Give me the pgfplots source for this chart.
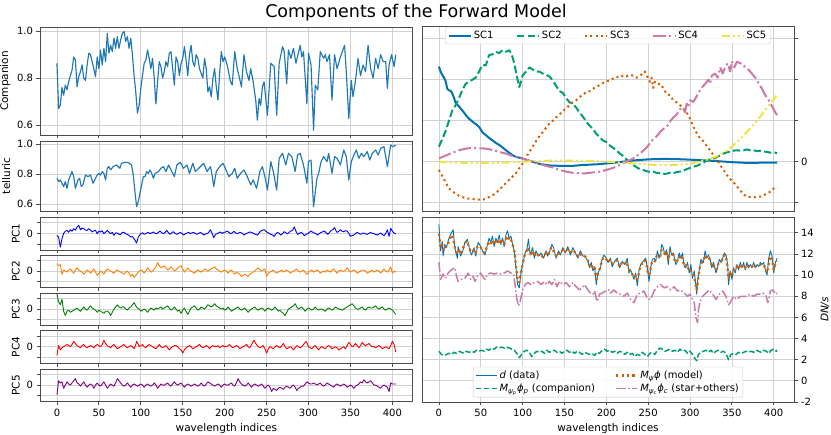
\documentclass[border=0pt,10pt]{standalone}
\usepackage{fontspec}
\setmainfont{DejaVu Sans}
\usepackage{pgfplots}
\pgfplotsset{compat=1.18}
\definecolor{cbblue}{HTML}{0072B2}
\definecolor{cbgreen}{HTML}{009E73}
\definecolor{cborange}{HTML}{D55E00}
\definecolor{cbpink}{HTML}{CC79A7}
\definecolor{cbyellow}{HTML}{F0E442}
\definecolor{lblue}{HTML}{1f77b4}
\definecolor{mpurple}{HTML}{800080}
\pgfplotsset{
  base/.style={
    scale only axis, anchor=south west,
    xmin=-20.2, xmax=424.2,
    xtick={0,50,...,400},
    grid=major,
    major grid style={black!18, line width=0.7pt},
    axis line style={black!70, line width=0.8pt},
    tick align=outside, major tick length=3.5pt,
    every tick/.style={black!70, line width=0.8pt},
    tick label style={font=\fontsize{10}{12}\selectfont, text=black},
    label style={font=\fontsize{10.5}{12}\selectfont},
    /pgf/number format/assume math mode=true,
    every axis plot/.append style={no marks, line join=round},
  },
  leftax/.style={base, width=372.7pt, tick pos=left},
  rightax/.style={base, width=372pt, height=185pt, xtick pos=bottom, ytick pos=right, yticklabel pos=right},
  pcax/.style={leftax, height=32.7pt, ymin=-1.55, ymax=1.5, ytick={-1,0,1}, yticklabels={{},0,{}}, xticklabels={}},
}
\begin{document}
\begin{tikzpicture}
\path[use as bounding box] (0,0) rectangle (831pt,435pt);
\node[font=\fontsize{17.5}{20}\selectfont] at (416pt,422pt) {Components of the Forward Model};

% Companion
\begin{axis}[leftax, at={(40pt,300pt)}, height=108pt, ymin=0.557, ymax=1.018,
  ytick={0.6,0.8,1.0}, yticklabels={0.6,0.8,1.0}, xticklabels={}, ylabel={Companion}]
\addplot[lblue, line width=1.15pt] coordinates {(0,0.863)(2,0.67)(4,0.684)(6,0.76)(8,0.727)(10,0.77)(12,0.75)(14,0.784)(16,0.81)(18,0.834)(20,0.89)(22,0.877)(24,0.763)(26,0.806)(28,0.827)(30,0.856)(32,0.8)(34,0.79)(36,0.856)(38,0.906)(40,0.9)(42,0.87)(44,0.84)(46,0.806)(48,0.89)(50,0.84)(52,0.92)(54,0.856)(56,0.927)(58,0.87)(60,0.99)(62,0.906)(64,0.94)(66,0.913)(68,0.97)(70,0.927)(72,0.977)(74,0.927)(76,0.963)(78,0.99)(80,0.999)(82,0.956)(84,0.977)(86,0.927)(88,0.97)(90,0.9)(92,0.81)(94,0.74)(96,0.65)(98,0.684)(100,0.756)(102,0.81)(104,0.863)(106,0.877)(108,0.92)(110,0.884)(112,0.84)(114,0.884)(116,0.8)(118,0.69)(120,0.784)(122,0.87)(124,0.849)(126,0.8)(128,0.827)(130,0.87)(132,0.849)(134,0.906)(136,0.913)(138,0.84)(140,0.77)(142,0.89)(144,0.87)(146,0.81)(148,0.863)(150,0.884)(152,0.934)(154,0.877)(156,0.81)(158,0.9)(160,0.94)(162,0.87)(164,0.849)(166,0.9)(168,0.884)(170,0.84)(172,0.82)(174,0.8)(176,0.884)(178,0.84)(180,0.741)(182,0.763)(184,0.72)(186,0.8)(188,0.84)(190,0.763)(192,0.706)(194,0.82)(196,0.913)(198,0.87)(200,0.89)(203,0.856)(207,0.784)(209,0.77)(212,0.913)(215,0.84)(217,0.81)(220,0.763)(223,0.9)(226,0.827)(229,0.79)(231,0.84)(234,0.784)(237,0.706)(239,0.62)(241,0.713)(243,0.684)(245,0.763)(247,0.784)(251,0.641)(255,0.863)(259,0.849)(262,0.641)(265,0.863)(269,0.934)(271,0.913)(274,0.777)(276,0.92)(279,0.884)(282,0.927)(285,0.863)(290,0.94)(292,0.89)(294,0.913)(298,0.69)(300,0.906)(303,0.856)(306,0.577)(308,0.77)(311,0.749)(314,0.913)(318,0.884)(320,0.9)(322,0.87)(325,0.9)(328,0.706)(331,0.9)(334,0.84)(338,0.89)(343,0.94)(345,0.827)(348,0.627)(351,0.79)(353,0.72)(356,0.79)(359,0.884)(362,0.81)(365,0.856)(368,0.827)(371,0.94)(374,0.84)(377,0.8)(380,0.884)(383,0.84)(386,0.9)(389,0.87)(392,0.87)(394,0.756)(396,0.856)(399,0.9)(402,0.849)(404,0.9)};
\end{axis}

% telluric
\begin{axis}[leftax, at={(40pt,224pt)}, height=70pt, ymin=0.553, ymax=1.02,
  ytick={0.6,0.8,1.0}, yticklabels={0.6,0.8,1.0}, xticklabels={}, ylabel={telluric}]
\addplot[lblue, line width=1.15pt] coordinates {(0,0.771)(2,0.749)(4,0.76)(6,0.738)(8,0.716)(10,0.749)(12,0.704)(14,0.76)(18,0.816)(20,0.782)(22,0.704)(25,0.76)(27,0.771)(29,0.716)(31,0.727)(34,0.793)(37,0.782)(40,0.793)(43,0.738)(45,0.76)(48,0.793)(50,0.804)(52,0.793)(54,0.816)(56,0.804)(58,0.76)(60,0.838)(62,0.849)(64,0.827)(67,0.849)(71,0.86)(75,0.838)(77,0.871)(81,0.878)(85,0.876)(89,0.86)(91,0.793)(93,0.682)(95,0.582)(97,0.616)(99,0.671)(101,0.727)(103,0.782)(105,0.782)(107,0.816)(109,0.804)(111,0.827)(113,0.804)(115,0.771)(117,0.804)(121,0.816)(124,0.838)(127,0.849)(130,0.816)(133,0.86)(137,0.816)(140,0.782)(143,0.86)(147,0.878)(151,0.838)(155,0.86)(158,0.804)(162,0.871)(165,0.816)(169,0.838)(173,0.86)(175,0.871)(179,0.816)(183,0.849)(185,0.793)(187,0.716)(190,0.816)(194,0.849)(198,0.871)(200,0.849)(205,0.782)(209,0.804)(212,0.838)(215,0.771)(219,0.804)(223,0.827)(227,0.782)(231,0.727)(234,0.76)(238,0.704)(242,0.816)(245,0.849)(248,0.782)(251,0.693)(255,0.882)(258,0.816)(262,0.693)(265,0.904)(269,0.938)(273,0.86)(276,0.938)(280,0.916)(284,0.816)(287,0.927)(290,0.938)(294,0.86)(298,0.738)(300,0.882)(303,0.893)(306,0.582)(310,0.771)(312,0.804)(315,0.882)(318,0.916)(322,0.882)(324,0.938)(328,0.804)(331,0.916)(334,0.904)(338,0.86)(342,0.96)(345,0.916)(348,0.76)(351,0.882)(354,0.927)(357,0.96)(360,0.904)(363,0.938)(366,0.916)(370,0.949)(373,0.893)(376,0.938)(380,0.96)(383,0.927)(386,0.971)(390,0.982)(394,0.849)(398,0.993)(401,0.982)(404,0.993)};
\end{axis}

% PC1
\begin{axis}[pcax, at={(40pt,185pt)}, ylabel={PC1}]
\addplot[blue, line width=0.9pt] coordinates {(0,-0.19)(2,-0.34)(4,-1.28)(6,-0.5)(8,0.0)(10,0.2)(12,0.28)(14,0.1)(16,0.34)(18,0.2)(20,0.44)(22,0.3)(24,0.6)(26,0.75)(28,0.34)(30,0.5)(32,0.44)(34,0.3)(36,0.28)(38,0.44)(40,0.3)(42,0.13)(44,0.25)(46,0.28)(48,-0.03)(50,0.2)(52,0.13)(54,0.25)(56,-0.03)(58,0.1)(60,0.28)(62,0.1)(64,-0.03)(66,0.1)(68,-0.19)(70,0.05)(72,0.03)(74,-0.1)(76,-0.09)(78,0.1)(80,0.09)(82,-0.05)(84,-0.09)(86,-0.2)(88,-0.34)(90,-0.3)(92,-0.5)(95,-0.9)(97,-0.34)(100,-0.03)(102,0.05)(104,-0.09)(107,0.03)(109,0.1)(111,-0.03)(113,0.05)(115,0.13)(117,0.0)(119,-0.03)(121,0.1)(123,0.22)(125,0.05)(127,-0.03)(129,0.1)(131,0.28)(133,0.05)(135,-0.09)(137,0.05)(139,0.16)(141,0.0)(143,-0.09)(145,0.0)(147,0.09)(149,0.0)(151,-0.16)(153,-0.05)(155,0.03)(157,0.1)(159,-0.03)(161,0.05)(163,0.09)(165,0.0)(167,-0.09)(169,0.0)(171,0.09)(173,0.0)(175,-0.16)(177,-0.05)(179,-0.03)(181,0.1)(183,0.34)(185,0.0)(187,-0.4)(189,-0.1)(191,-0.03)(193,0.05)(195,0.13)(197,0.0)(199,0.09)(201,0.12)(203,0.22)(205,0.1)(207,-0.03)(209,0.05)(211,0.19)(213,0.05)(215,-0.03)(217,0.05)(219,0.09)(221,0.0)(223,-0.16)(225,-0.05)(227,0.03)(229,0.1)(231,0.13)(233,0.05)(235,-0.03)(237,-0.1)(239,-0.16)(241,0.05)(243,0.22)(245,0.3)(247,0.34)(249,0.2)(251,0.09)(253,0.0)(255,-0.09)(257,-0.15)(259,-0.28)(261,-0.05)(263,0.09)(265,0.0)(267,-0.16)(269,0.0)(271,0.16)(273,0.05)(275,-0.03)(277,0.1)(279,0.22)(281,0.3)(283,0.6)(285,0.2)(287,-0.09)(289,0.0)(291,0.09)(293,0.0)(295,-0.22)(297,-0.1)(299,-0.03)(301,0.1)(303,0.22)(305,0.1)(307,0.03)(309,-0.05)(311,-0.16)(313,0.0)(315,0.09)(317,0.15)(319,0.22)(321,0.05)(323,-0.09)(325,0.1)(327,0.28)(329,0.35)(331,0.53)(333,0.2)(334,0.09)(336,0.2)(338,0.34)(340,0.2)(342,0.16)(344,0.25)(346,0.22)(348,0.0)(350,-0.28)(352,-0.2)(354,-0.16)(356,0.0)(358,0.09)(360,0.0)(362,-0.09)(364,0.0)(366,0.03)(368,-0.05)(370,-0.09)(372,0.0)(374,0.09)(376,0.0)(378,-0.03)(380,-0.1)(382,-0.16)(384,-0.05)(386,0.03)(388,-0.1)(390,-0.22)(392,0.0)(394,0.34)(396,-0.28)(398,0.47)(400,0.2)(402,0.03)(404,-0.03)};
\end{axis}

% PC2
\begin{axis}[pcax, at={(40pt,147.3pt)}, ylabel={PC2}]
\addplot[orange, line width=0.9pt] coordinates {(0,0.7)(2,0.5)(4,0.6)(6,-0.3)(8,0.1)(10,0.0)(12,-0.1)(14,0.1)(16,0.2)(18,0.0)(20,-0.2)(22,0.1)(24,0.3)(26,0.1)(28,0.0)(30,-0.1)(32,-0.3)(34,-0.1)(36,0.1)(38,0.0)(40,-0.2)(42,0.0)(44,0.2)(46,-0.1)(48,-0.4)(50,-0.2)(52,0.0)(54,-0.1)(56,-0.3)(58,0.0)(60,0.2)(62,0.1)(64,0.0)(66,-0.1)(68,-0.2)(70,0.0)(72,0.1)(74,0.0)(76,-0.1)(78,-0.2)(80,-0.3)(82,-0.1)(84,0.0)(86,-0.2)(88,-0.5)(90,-0.3)(92,-0.6)(94,-0.4)(96,-0.2)(98,0.0)(100,0.1)(102,0.0)(104,-0.2)(106,0.0)(108,0.3)(110,0.1)(112,-0.1)(114,0.0)(116,0.2)(118,0.4)(120,0.8)(122,0.5)(124,0.3)(126,0.4)(128,0.5)(130,0.3)(132,0.1)(134,0.2)(136,0.4)(138,0.2)(140,0.0)(142,0.1)(144,0.3)(146,0.4)(148,0.5)(150,0.2)(152,-0.1)(154,0.1)(156,0.3)(158,0.1)(160,0.0)(162,-0.1)(164,-0.2)(166,0.0)(168,0.1)(170,0.0)(172,-0.1)(174,0.0)(176,0.2)(178,0.1)(180,0.0)(182,0.1)(184,0.2)(186,0.3)(188,0.4)(190,0.2)(192,0.1)(194,0.0)(196,-0.1)(198,0.0)(200,0.1)(202,0.0)(204,-0.2)(206,0.0)(208,0.1)(210,-0.1)(212,-0.3)(214,-0.1)(216,-0.2)(218,-0.3)(220,-0.5)(222,-0.4)(224,-0.3)(226,-0.4)(228,-0.5)(230,-0.3)(232,-0.2)(234,-0.1)(236,0.0)(238,0.2)(240,0.3)(242,0.1)(244,0.0)(246,0.1)(248,0.2)(250,-0.5)(252,-0.2)(254,-0.1)(256,0.0)(258,0.1)(260,-0.1)(262,-0.2)(264,-0.1)(266,0.0)(268,0.1)(270,-0.1)(272,0.0)(274,0.1)(276,0.0)(278,-0.2)(280,-0.1)(282,0.0)(284,0.1)(286,0.2)(288,0.0)(290,-0.1)(292,0.0)(294,0.1)(296,-0.1)(298,-0.3)(300,-0.1)(302,0.0)(304,0.1)(306,-0.1)(308,0.0)(310,0.1)(312,0.0)(314,-0.2)(316,-0.1)(318,0.0)(320,-0.1)(322,0.1)(324,0.0)(326,-0.1)(328,0.1)(330,0.2)(332,0.0)(334,-0.2)(336,0.0)(338,0.1)(340,0.0)(342,0.0)(344,0.1)(346,0.3)(348,0.1)(350,-0.1)(352,0.0)(354,0.1)(356,0.0)(358,-0.2)(360,-0.1)(362,0.0)(364,0.1)(366,0.1)(368,0.0)(370,-0.2)(372,-0.1)(374,0.0)(376,0.1)(378,-0.1)(380,0.0)(382,0.1)(384,0.0)(386,-0.2)(388,0.0)(390,0.2)(392,0.0)(394,-0.1)(396,0.1)(398,0.4)(400,-0.2)(402,0.0)(404,-0.1)};
\end{axis}

% PC3
\begin{axis}[pcax, at={(40pt,109.3pt)}, ylabel={PC3}]
\addplot[green!50!black, line width=0.9pt] coordinates {(0,1.4)(1,1.0)(2,0.7)(4,0.4)(6,0.9)(8,-0.2)(10,-0.6)(12,-0.2)(14,-0.1)(16,-0.3)(18,-0.2)(20,-0.1)(22,0.0)(24,0.1)(26,-0.1)(28,-0.2)(30,0.0)(32,0.2)(34,0.0)(36,-0.1)(38,0.1)(40,0.3)(42,0.1)(44,0.0)(46,-0.1)(48,-0.3)(50,-0.1)(52,-0.2)(54,-0.3)(56,-0.4)(58,-0.2)(60,-0.2)(62,-0.3)(64,-0.6)(66,-0.3)(68,0.0)(70,0.2)(72,0.4)(74,0.2)(76,0.1)(78,0.2)(80,0.2)(82,0.0)(84,-0.1)(86,0.1)(88,0.2)(90,0.4)(92,0.6)(94,0.3)(96,0.1)(98,0.0)(100,-0.2)(102,-0.1)(104,0.0)(106,-0.1)(108,-0.3)(110,-0.1)(112,0.1)(114,0.0)(116,-0.1)(118,0.1)(120,0.0)(122,0.1)(124,0.2)(126,0.0)(128,0.1)(130,0.2)(132,0.3)(134,0.1)(136,-0.1)(138,0.0)(140,0.2)(142,0.0)(144,-0.2)(146,-0.1)(148,-0.4)(150,-0.1)(152,0.1)(154,-0.2)(156,-0.5)(158,-0.2)(160,0.1)(162,0.2)(164,0.3)(166,0.1)(168,-0.1)(170,0.0)(172,0.2)(174,0.1)(176,0.0)(178,0.2)(180,0.4)(182,0.3)(184,0.2)(186,0.3)(188,0.5)(190,0.3)(192,0.2)(194,0.1)(196,0.0)(198,0.1)(200,-0.1)(202,0.0)(204,0.2)(206,0.0)(208,-0.2)(210,-0.1)(212,0.0)(214,0.1)(216,0.2)(218,0.0)(220,-0.1)(222,0.0)(224,0.1)(226,-0.1)(228,-0.3)(230,-0.1)(232,0.0)(234,0.1)(236,0.2)(238,0.0)(240,-0.1)(242,0.0)(244,0.1)(246,0.0)(248,-0.2)(250,0.0)(252,0.1)(254,0.0)(256,-0.1)(258,0.0)(260,0.2)(262,0.0)(264,-0.2)(266,-0.1)(268,-0.3)(270,-0.4)(272,-0.6)(274,-0.3)(276,0.0)(278,0.1)(280,0.2)(282,0.3)(284,0.5)(286,0.2)(288,0.0)(290,0.1)(292,0.2)(294,0.0)(296,-0.2)(298,0.0)(300,0.1)(302,0.0)(304,-0.1)(306,0.0)(308,0.2)(310,0.0)(312,-0.1)(314,0.0)(316,0.0)(318,-0.1)(320,-0.2)(322,0.0)(324,0.1)(326,0.0)(328,-0.1)(330,0.0)(332,0.2)(334,0.1)(336,0.0)(338,0.0)(340,-0.1)(342,0.0)(344,0.1)(346,0.2)(348,0.3)(350,0.4)(352,0.5)(354,0.3)(356,0.1)(358,0.0)(360,0.0)(362,0.1)(364,0.2)(366,0.0)(368,-0.1)(370,0.1)(372,0.2)(374,0.1)(376,0.1)(378,0.2)(380,0.3)(382,0.1)(384,0.0)(386,0.1)(388,0.2)(390,0.0)(392,-0.1)(394,0.0)(396,0.1)(398,0.0)(400,-0.1)(402,-0.3)(404,-0.5)};
\end{axis}

% PC4
\begin{axis}[pcax, at={(40pt,71.7pt)}, ylabel={PC4}]
\addplot[red, line width=0.9pt] coordinates {(0,-0.8)(2,0.1)(4,-0.3)(6,-0.1)(8,0.0)(10,0.1)(12,0.2)(14,0.1)(16,0.0)(18,0.2)(20,0.5)(22,0.3)(24,0.1)(26,0.0)(28,-0.1)(30,0.1)(32,0.2)(34,0.0)(36,-0.1)(38,0.0)(40,0.1)(42,0.0)(44,-0.1)(46,0.1)(48,0.2)(50,0.1)(52,0.0)(54,0.2)(56,0.6)(58,0.3)(60,0.1)(62,0.0)(64,-0.1)(66,0.1)(68,0.2)(70,0.0)(72,-0.2)(74,-0.1)(76,0.0)(78,0.1)(80,0.2)(82,0.0)(84,-0.1)(86,0.0)(88,0.1)(90,0.0)(92,-0.2)(94,0.2)(95,0.5)(97,0.2)(98,0.0)(100,0.1)(102,0.2)(104,0.0)(106,-0.1)(108,0.1)(110,0.2)(112,0.1)(114,0.0)(116,-0.1)(118,-0.2)(120,0.0)(122,0.2)(124,0.0)(126,-0.1)(128,0.0)(130,0.1)(132,-0.1)(134,-0.3)(136,-0.1)(138,0.0)(140,0.1)(142,0.1)(144,0.0)(146,-0.2)(148,-0.3)(150,-0.6)(152,-0.3)(154,-0.1)(156,0.0)(158,0.1)(160,0.0)(162,-0.2)(164,-0.1)(166,0.0)(168,0.1)(170,0.2)(172,0.0)(174,-0.1)(176,0.0)(178,0.1)(180,0.0)(182,-0.2)(184,0.0)(186,0.1)(188,0.0)(190,0.0)(192,0.1)(194,-0.1)(196,0.0)(198,0.1)(200,0.0)(202,0.0)(204,0.1)(206,0.2)(208,0.0)(210,-0.1)(212,0.0)(214,0.1)(216,0.0)(218,-0.2)(220,-0.1)(222,0.0)(224,0.1)(226,0.2)(228,0.0)(230,-0.1)(232,0.2)(235,0.6)(237,0.3)(238,0.2)(240,0.0)(242,-0.1)(244,0.0)(246,0.1)(248,-0.2)(250,-0.6)(252,-0.2)(254,0.0)(256,-0.1)(258,-0.2)(260,0.0)(262,0.1)(264,0.0)(266,-0.1)(268,0.1)(270,0.3)(272,0.0)(274,-0.2)(276,-0.1)(278,0.0)(280,-0.1)(282,-0.3)(284,-0.1)(286,0.1)(288,0.0)(290,-0.1)(292,0.0)(294,0.2)(297,0.5)(299,0.2)(300,0.0)(302,-0.1)(304,-0.2)(306,0.0)(308,0.1)(310,-0.1)(312,-0.3)(314,-0.1)(316,0.0)(318,-0.1)(320,-0.2)(322,0.0)(324,0.1)(326,0.0)(328,-0.2)(330,-0.1)(332,0.0)(334,-0.1)(336,-0.3)(338,-0.2)(340,-0.1)(342,0.0)(344,-0.2)(346,0.1)(348,0.4)(350,0.2)(352,0.0)(354,0.1)(356,0.3)(358,0.1)(360,-0.1)(362,0.1)(364,0.4)(366,0.2)(368,0.1)(370,0.2)(372,0.3)(374,0.1)(376,0.0)(378,0.0)(380,-0.1)(382,0.0)(384,0.1)(386,0.0)(388,-0.2)(390,-0.1)(392,0.0)(394,-0.1)(396,-0.2)(398,0.1)(400,0.5)(402,0.2)(404,-0.5)};
\end{axis}

% PC5
\begin{axis}[pcax, at={(40pt,33.3pt)}, ylabel={PC5}, xticklabels={0,50,100,150,200,250,300,350,400}, xlabel={wavelength indices}]
\addplot[mpurple, line width=0.9pt] coordinates {(0,-0.9)(2,0.4)(4,0.2)(6,0.3)(8,-0.3)(10,0.0)(12,0.3)(14,0.1)(16,0.0)(18,0.2)(20,0.4)(22,0.6)(24,0.2)(26,0.1)(28,-0.1)(30,0.1)(32,0.3)(34,0.0)(36,-0.2)(38,0.0)(40,0.1)(42,0.0)(44,-0.3)(46,0.0)(48,0.2)(50,0.0)(52,-0.1)(54,0.1)(56,0.3)(58,0.0)(60,-0.3)(62,-0.1)(64,0.1)(66,0.0)(68,-0.1)(70,0.2)(72,0.6)(74,0.4)(76,0.2)(78,0.0)(80,-0.1)(82,0.0)(84,0.2)(86,0.0)(88,-0.2)(90,0.0)(92,0.1)(94,0.0)(96,-0.1)(98,0.0)(100,0.1)(102,0.0)(104,-0.2)(106,0.0)(108,0.1)(110,0.0)(112,-0.1)(114,0.0)(116,0.2)(118,0.0)(120,-0.3)(122,-0.1)(124,0.1)(126,0.0)(128,0.0)(130,0.1)(132,0.2)(134,0.0)(136,-0.1)(138,0.1)(140,0.3)(142,0.1)(144,0.0)(146,0.1)(148,0.2)(150,0.0)(152,-0.2)(154,0.0)(156,0.1)(158,0.0)(160,-0.1)(162,0.0)(164,0.1)(166,0.0)(168,-0.1)(170,0.0)(172,0.2)(174,0.0)(176,-0.1)(178,0.1)(180,0.3)(182,0.2)(184,0.1)(186,0.0)(188,-0.1)(190,0.0)(192,0.1)(194,0.0)(196,-0.2)(198,0.0)(200,0.1)(202,0.0)(204,0.0)(206,0.1)(208,0.2)(210,0.0)(212,-0.1)(214,0.2)(216,0.6)(218,0.3)(220,0.1)(222,0.0)(224,-0.1)(226,0.0)(228,0.2)(230,0.0)(232,-0.2)(234,0.0)(236,0.1)(238,0.0)(240,-0.1)(242,0.0)(244,0.1)(246,-0.1)(248,-0.3)(250,-0.1)(252,0.0)(254,-0.2)(256,-0.6)(258,-0.3)(260,-0.4)(262,-0.5)(264,-0.3)(266,-0.2)(268,-0.3)(270,-0.4)(272,-0.2)(274,-0.1)(276,-0.2)(278,-0.3)(280,-0.1)(282,0.0)(284,-0.2)(286,-0.5)(288,-0.3)(290,-0.2)(292,-0.1)(294,-0.1)(296,0.1)(298,0.3)(300,0.2)(302,0.1)(304,0.1)(306,0.2)(308,0.1)(310,0.0)(312,0.1)(314,0.2)(316,0.0)(318,-0.1)(320,0.0)(322,0.2)(324,0.1)(326,0.0)(328,-0.1)(330,-0.2)(332,0.0)(334,0.1)(336,0.0)(338,-0.1)(340,0.0)(342,0.1)(344,0.0)(346,-0.2)(348,-0.1)(350,0.0)(352,-0.1)(354,-0.3)(356,-0.1)(358,0.0)(360,0.1)(362,0.3)(364,0.2)(366,0.5)(368,0.3)(370,0.2)(372,0.3)(374,0.4)(376,0.2)(378,0.0)(380,0.0)(382,-0.1)(384,-0.2)(386,-0.3)(388,-0.1)(390,0.0)(392,-0.1)(394,-0.2)(396,-0.6)(398,0.2)(400,0.1)(402,0.1)(404,0.1)};
\end{axis}

% Right top: SC curves
\begin{axis}[rightax, at={(422pt,224pt)}, ymin=-1.2, ymax=3.31,
  ytick={-1,0,1,2,3}, yticklabels={{},0,{},{},{}}, xticklabels={},
  legend style={at={(0.5,0.995)}, anchor=north, legend columns=5, draw=black!20, rounded corners=2pt, fill=white, fill opacity=0.85, text opacity=1, font=\fontsize{10}{12}\selectfont, /tikz/every even column/.append style={column sep=20.5pt}, inner sep=2pt},
  legend image code/.code={\draw[#1] (0pt,0pt) -- (22pt,0pt);}]
\addplot[cbblue, line width=2pt] coordinates {(0,2.32)(2,2.2)(4,2.12)(6,2.05)(8,1.97)(10,1.78)(12,1.74)(14,1.73)(16,1.66)(18,1.56)(20,1.43)(22,1.39)(24,1.35)(26,1.3)(28,1.25)(30,1.2)(32,1.14)(36,1.05)(40,0.98)(44,0.92)(48,0.85)(52,0.72)(56,0.65)(60,0.58)(64,0.52)(68,0.46)(72,0.41)(76,0.35)(80,0.28)(84,0.22)(88,0.16)(92,0.12)(96,0.1)(100,0.08)(106,0.04)(112,0.0)(120,-0.05)(132,-0.09)(145,-0.1)(160,-0.1)(171,-0.08)(190,-0.06)(211,-0.02)(231,0.03)(251,0.06)(271,0.07)(291,0.06)(311,0.04)(330,0.02)(350,-0.01)(370,-0.03)(390,-0.02)(404,-0.02)};
\addlegendentry{SC1}
\addplot[cbgreen, line width=2pt, dash pattern=on 7.4pt off 3.2pt] coordinates {(0,0.37)(4,0.55)(8,0.75)(12,1.0)(16,1.25)(20,1.38)(24,1.55)(28,1.75)(32,1.9)(36,1.95)(40,2.0)(44,2.05)(48,2.2)(52,2.36)(56,2.35)(60,2.6)(64,2.62)(68,2.68)(72,2.65)(76,2.72)(80,2.68)(84,2.72)(86,2.65)(88,2.55)(90,2.4)(92,2.2)(94,2.0)(96,1.82)(98,1.95)(100,2.1)(104,2.2)(108,2.3)(112,2.25)(116,2.2)(120,2.2)(124,2.15)(128,2.12)(132,2.08)(136,1.98)(140,1.85)(144,1.72)(148,1.68)(152,1.55)(156,1.45)(160,1.42)(164,1.32)(168,1.2)(172,1.1)(176,0.98)(180,0.88)(184,0.8)(188,0.68)(192,0.6)(196,0.52)(200,0.48)(204,0.4)(208,0.34)(212,0.28)(216,0.2)(220,0.14)(224,0.06)(228,-0.02)(232,-0.08)(236,-0.13)(240,-0.18)(244,-0.2)(248,-0.23)(252,-0.25)(256,-0.24)(260,-0.27)(264,-0.28)(268,-0.3)(272,-0.29)(276,-0.27)(280,-0.28)(284,-0.25)(288,-0.24)(292,-0.22)(296,-0.18)(300,-0.15)(304,-0.12)(308,-0.1)(312,-0.06)(316,-0.02)(320,0.03)(324,0.06)(328,0.08)(332,0.12)(336,0.15)(340,0.2)(344,0.23)(348,0.25)(352,0.27)(356,0.28)(360,0.27)(364,0.28)(368,0.3)(372,0.28)(376,0.28)(380,0.26)(384,0.27)(388,0.25)(392,0.24)(396,0.22)(400,0.23)(404,0.21)};
\addlegendentry{SC2}
\addplot[cborange, line width=2pt, dash pattern=on 2pt off 3.3pt] coordinates {(0,-0.2)(4,-0.35)(8,-0.5)(12,-0.65)(16,-0.72)(20,-0.78)(24,-0.83)(28,-0.86)(32,-0.89)(36,-0.9)(40,-0.9)(44,-0.93)(48,-0.92)(52,-0.93)(56,-0.9)(60,-0.86)(64,-0.82)(68,-0.76)(72,-0.69)(76,-0.6)(80,-0.52)(84,-0.44)(88,-0.36)(92,-0.28)(96,-0.16)(100,-0.04)(104,0.1)(108,0.24)(112,0.37)(116,0.5)(120,0.62)(124,0.72)(128,0.83)(132,0.93)(136,1.0)(140,1.08)(144,1.15)(148,1.24)(152,1.3)(156,1.38)(160,1.45)(164,1.5)(168,1.58)(172,1.63)(176,1.7)(180,1.72)(184,1.78)(188,1.82)(192,1.87)(196,1.92)(200,1.96)(204,1.98)(208,2.03)(212,2.07)(216,2.05)(220,2.1)(224,2.08)(228,2.12)(232,2.1)(236,2.05)(240,2.1)(244,2.15)(246,2.2)(248,2.1)(250,2.05)(252,1.95)(254,2.05)(256,1.8)(258,1.95)(260,1.9)(264,1.9)(268,1.8)(272,1.65)(276,1.62)(280,1.5)(284,1.45)(288,1.38)(292,1.3)(296,1.2)(300,1.05)(304,0.85)(308,0.7)(312,0.57)(316,0.5)(320,0.38)(324,0.28)(328,0.16)(332,0.06)(336,-0.08)(340,-0.2)(344,-0.32)(348,-0.42)(352,-0.5)(356,-0.6)(360,-0.7)(364,-0.8)(368,-0.85)(372,-0.86)(376,-0.87)(380,-0.85)(384,-0.85)(388,-0.82)(392,-0.76)(396,-0.73)(400,-0.65)(404,-0.6)};
\addlegendentry{SC3}
\addplot[cbpink, line width=2pt, dash pattern=on 12.8pt off 3.2pt on 2pt off 3.2pt] coordinates {(0,0.08)(8,0.15)(16,0.22)(24,0.28)(32,0.32)(40,0.34)(48,0.33)(56,0.32)(64,0.29)(72,0.24)(80,0.2)(88,0.14)(96,0.1)(104,0.05)(112,0.0)(120,-0.05)(128,-0.1)(136,-0.14)(144,-0.2)(152,-0.24)(160,-0.27)(168,-0.28)(176,-0.28)(184,-0.26)(192,-0.24)(200,-0.2)(208,-0.15)(216,-0.08)(224,0.0)(232,0.08)(240,0.2)(248,0.34)(252,0.45)(256,0.55)(260,0.62)(264,0.72)(268,0.8)(272,0.85)(276,0.98)(280,1.08)(284,1.15)(288,1.28)(292,1.3)(294,1.2)(296,1.42)(298,1.35)(300,1.5)(304,1.46)(308,1.6)(312,1.75)(315,1.83)(318,1.9)(322,2.0)(324,1.9)(326,2.1)(330,2.15)(333,2.05)(336,2.3)(339,2.15)(342,2.32)(345,2.4)(348,2.2)(350,2.45)(353,2.3)(356,2.44)(360,2.4)(362,2.4)(366,2.3)(370,2.24)(374,2.15)(378,2.05)(382,1.91)(386,1.78)(390,1.62)(394,1.5)(398,1.35)(402,1.2)(404,1.14)};
\addlegendentry{SC4}
\addplot[cbyellow, line width=2pt, dash pattern=on 8pt off 3pt on 2pt off 3pt on 2pt off 3pt] coordinates {(0,0.0)(20,-0.02)(40,-0.03)(60,-0.03)(80,-0.02)(100,0.0)(120,0.02)(140,0.03)(160,0.03)(180,0.02)(200,0.0)(220,-0.02)(240,-0.05)(260,-0.08)(280,-0.08)(300,-0.05)(310,0.0)(320,0.05)(330,0.12)(340,0.22)(350,0.37)(360,0.55)(370,0.77)(380,1.0)(390,1.26)(397,1.45)(404,1.63)};
\addlegendentry{SC5}
\end{axis}

% Right bottom
\begin{axis}[rightax, at={(422pt,33pt)}, ymin=-2, ymax=15.5,
  ytick={-2,0,2,4,6,8,10,12,14}, yticklabels={-2,0,2,4,6,8,10,12,14},
  xticklabels={0,50,100,150,200,250,300,350,400}, xlabel={wavelength indices}, ylabel={\textit{DN/s}},
  legend style={at={(0.5,0.025)}, anchor=south, legend columns=2, draw=black!20, rounded corners=2pt, fill=white, fill opacity=0.85, text opacity=1, font=\fontsize{10}{12}\selectfont, /tikz/every even column/.append style={column sep=18pt}, inner sep=2pt, cells={anchor=west}},
  legend image code/.code={\draw[#1] (0pt,0pt) -- (21pt,0pt);}]
\addplot[cbblue, line width=0.9pt] coordinates {(0,14.8)(1,13.3)(2,12.3)(4,13.2)(5,11.8)(7,12.9)(9,12.6)(12,13.5)(15,14.0)(17,14.3)(19,12.6)(22,11.6)(23,12.7)(26,11.8)(29,12.4)(31,13.1)(34,13.4)(37,12.3)(39,11.9)(42,12.6)(44,11.8)(47,13.1)(50,12.7)(52,12.3)(55,11.9)(58,12.9)(60,13.5)(62,13.1)(64,13.7)(66,12.7)(68,13.5)(70,13.1)(72,13.8)(74,12.9)(76,13.5)(78,12.7)(80,13.8)(82,14.2)(84,13.4)(86,13.7)(88,12.9)(90,12.3)(92,10.7)(94,9.1)(96,8.8)(98,10.2)(100,11.0)(103,12.1)(105,12.4)(107,13.4)(109,11.9)(112,12.6)(114,11.6)(116,12.3)(119,11.8)(122,12.1)(125,11.6)(128,12.3)(130,11.8)(133,12.4)(135,12.9)(137,12.6)(140,11.6)(143,12.3)(145,11.9)(148,12.6)(151,12.1)(154,12.7)(157,11.9)(160,12.6)(162,12.3)(166,11.6)(169,12.3)(172,11.8)(174,11.8)(176,11.6)(178,11.3)(180,10.7)(182,11.2)(184,10.4)(186,10.8)(188,9.1)(190,10.2)(193,10.7)(195,11.5)(197,11.9)(200,11.6)(202,11.2)(205,11.6)(207,10.8)(210,11.3)(213,11.6)(216,10.7)(219,11.3)(222,11.0)(225,11.6)(227,10.2)(229,10.5)(231,10.1)(233,9.6)(235,10.2)(237,9.0)(239,10.4)(241,11.0)(244,11.3)(247,11.6)(249,10.7)(251,9.4)(253,10.7)(255,11.5)(257,11.6)(259,11.3)(261,12.3)(263,11.6)(265,11.9)(266,12.9)(268,12.6)(270,11.9)(272,12.4)(274,11.0)(276,12.7)(278,11.9)(280,12.1)(283,11.0)(285,11.3)(287,12.1)(289,11.6)(291,12.1)(293,10.8)(295,10.7)(297,11.2)(299,10.2)(301,11.0)(303,9.7)(305,10.4)(307,9.0)(308,8.2)(309,9.4)(311,10.5)(313,11.5)(316,11.2)(318,12.3)(320,11.6)(322,11.9)(324,11.5)(326,10.7)(328,11.2)(331,10.2)(333,10.8)(335,11.5)(337,11.2)(339,11.6)(341,12.1)(343,11.9)(345,11.0)(346,9.1)(348,10.4)(350,9.6)(352,10.7)(354,10.2)(356,11.0)(358,10.5)(360,11.2)(362,10.7)(364,11.2)(366,10.5)(368,11.2)(370,10.7)(372,11.0)(374,10.7)(376,11.2)(378,10.7)(380,11.0)(382,10.8)(384,11.2)(386,11.0)(388,11.2)(390,10.5)(392,10.0)(394,11.6)(396,12.3)(398,11.8)(400,10.2)(402,11.2)(404,11.6)};
\addlegendentry{\textit{d} (data)}
\addplot[cborange, line width=2.2pt, dash pattern=on 2.2pt off 3.2pt] coordinates {(0,13.9)(2,12.6)(4,12.9)(6,12.3)(8,12.7)(10,12.8)(12,13.2)(14,13.6)(16,13.8)(18,13.0)(20,12.3)(22,12.0)(24,12.3)(26,12.0)(28,12.4)(30,12.8)(32,13.1)(34,13.2)(36,12.6)(38,12.2)(40,12.2)(42,12.4)(44,12.1)(46,12.7)(48,12.8)(50,12.6)(52,12.4)(54,12.1)(56,12.4)(58,12.8)(60,13.2)(62,13.0)(64,13.3)(66,12.9)(68,13.2)(70,13.0)(72,13.4)(74,13.0)(76,13.3)(78,12.9)(80,13.4)(82,13.7)(84,13.3)(86,13.4)(88,12.9)(90,12.4)(92,11.0)(94,9.6)(96,9.3)(98,10.2)(100,11.0)(102,11.8)(104,12.1)(106,12.6)(108,12.3)(110,12.0)(112,12.3)(114,11.8)(116,12.1)(118,11.9)(120,11.9)(122,12.0)(124,11.7)(126,11.9)(128,12.1)(130,11.9)(132,12.2)(134,12.6)(136,12.5)(138,12.0)(140,11.8)(142,12.1)(144,12.0)(146,12.2)(148,12.4)(150,12.1)(152,12.4)(154,12.5)(156,12.1)(158,12.2)(160,12.4)(162,12.2)(164,11.9)(166,11.8)(168,12.1)(170,11.9)(172,11.9)(174,11.8)(176,11.7)(178,11.4)(180,10.9)(182,11.1)(184,10.6)(186,10.7)(188,9.6)(190,10.2)(192,10.6)(194,11.1)(196,11.6)(198,11.7)(200,11.5)(202,11.2)(204,11.4)(206,11.1)(208,11.1)(210,11.2)(212,11.4)(214,11.1)(216,10.8)(218,11.1)(220,11.1)(222,11.0)(224,11.3)(226,10.7)(228,10.4)(230,10.3)(232,9.9)(234,10.0)(236,9.5)(238,9.9)(240,10.6)(242,11.0)(244,11.2)(246,11.4)(248,11.0)(250,10.0)(252,10.2)(254,11.1)(256,11.4)(258,11.3)(260,11.8)(262,11.8)(264,11.7)(266,12.4)(268,12.3)(270,12.0)(272,12.2)(274,11.4)(276,12.3)(278,12.0)(280,11.9)(282,11.3)(284,11.2)(286,11.7)(288,11.7)(290,11.9)(292,11.2)(294,10.8)(296,11.0)(298,10.6)(300,10.7)(302,10.2)(304,10.1)(306,9.4)(308,8.6)(310,9.8)(312,10.9)(314,11.2)(316,11.3)(318,11.9)(320,11.6)(322,11.7)(324,11.4)(326,10.9)(328,11.0)(330,10.5)(332,10.6)(334,11.1)(336,11.2)(338,11.4)(340,11.8)(342,11.9)(344,11.3)(346,9.6)(348,10.2)(350,9.9)(352,10.5)(354,10.4)(356,10.8)(358,10.6)(360,11.0)(362,10.8)(364,11.0)(366,10.7)(368,11.0)(370,10.8)(372,10.9)(374,10.8)(376,11.0)(378,10.8)(380,10.9)(382,10.9)(384,11.0)(386,11.0)(388,11.0)(390,10.6)(392,10.2)(394,11.1)(396,11.8)(398,11.5)(400,10.5)(402,11.0)(404,11.3)};
\addlegendentry{\textit{M}\textsubscript{\textit{ψ}}\textit{ϕ} (model)}
\addplot[cbgreen, line width=1.5pt, dash pattern=on 5.5pt off 2.4pt] coordinates {(0,2.8)(3,2.5)(6,2.4)(9,2.5)(12,2.6)(15,2.5)(18,2.7)(21,2.6)(24,2.8)(27,2.7)(30,2.6)(33,2.8)(36,2.7)(39,2.8)(42,2.7)(45,2.9)(48,2.8)(51,2.9)(54,2.8)(57,3.0)(60,2.9)(63,3.1)(66,3.0)(69,3.2)(72,3.1)(75,3.2)(78,3.1)(81,3.2)(84,3.1)(87,3.0)(90,2.9)(93,2.6)(96,2.2)(99,2.5)(102,2.8)(105,2.9)(108,2.7)(111,2.3)(114,2.6)(117,2.8)(120,2.7)(123,2.8)(126,2.6)(129,2.9)(132,2.7)(135,2.8)(138,2.9)(141,2.7)(144,2.8)(147,2.6)(150,2.8)(153,2.9)(156,2.7)(159,2.8)(162,2.6)(165,2.8)(168,2.7)(171,2.5)(174,2.7)(177,2.6)(180,2.5)(183,2.6)(186,2.4)(189,2.7)(192,2.6)(195,2.9)(198,3.0)(201,2.8)(204,2.9)(207,2.7)(210,2.8)(213,2.6)(216,2.8)(219,2.7)(222,2.5)(225,2.7)(228,2.5)(231,2.6)(234,2.3)(237,2.5)(240,2.4)(243,2.7)(246,2.5)(249,2.3)(252,2.6)(255,2.7)(258,2.5)(261,2.9)(264,3.1)(267,3.0)(270,2.8)(273,2.9)(276,3.0)(279,2.8)(282,2.9)(285,2.7)(288,3.0)(291,2.8)(294,2.9)(297,2.6)(300,2.8)(303,2.5)(306,2.1)(308,1.9)(310,2.5)(313,2.7)(316,2.8)(319,2.9)(322,2.7)(325,2.9)(328,2.6)(331,2.8)(334,2.9)(337,2.7)(340,2.8)(343,2.6)(346,2.0)(349,2.5)(352,2.6)(355,2.5)(358,2.7)(361,2.6)(364,2.7)(367,2.8)(370,2.7)(373,2.8)(376,2.7)(379,2.9)(382,2.8)(385,2.7)(388,2.9)(391,2.8)(394,2.6)(397,2.9)(400,3.0)(403,2.8)(404,2.9)};
\addlegendentry{\textit{M}\textsubscript{\textit{ψ}\textsubscript{\textit{p}}}\textit{ϕ}\textsubscript{\textit{p}} (companion)}
\addplot[cbpink, line width=1.5pt, dash pattern=on 9.6pt off 2.4pt on 1.5pt off 2.4pt] coordinates {(0,11.2)(2,9.6)(5,10.1)(8,9.7)(11,10.2)(15,10.5)(19,10.7)(21,9.9)(23,9.4)(27,9.6)(31,9.7)(35,10.2)(38,9.6)(41,9.9)(43,9.4)(46,9.9)(50,10.2)(52,9.9)(55,9.6)(58,10.1)(62,10.2)(66,10.1)(70,10.2)(74,10.1)(78,10.2)(82,10.4)(86,10.2)(89,10.1)(91,9.1)(93,7.8)(95,7.1)(97,7.5)(100,8.6)(103,9.1)(106,9.3)(110,9.1)(114,9.3)(118,9.4)(122,9.1)(126,9.4)(129,9.1)(132,9.4)(135,9.1)(138,9.6)(141,8.9)(144,9.4)(148,9.1)(152,9.3)(156,8.9)(160,9.3)(164,8.9)(168,8.6)(172,8.9)(174,9.1)(178,8.6)(181,8.3)(184,8.2)(186,8.5)(189,7.5)(192,8.2)(195,8.3)(199,8.5)(203,8.6)(205,8.3)(209,8.6)(213,8.3)(217,8.2)(221,8.0)(225,8.3)(229,7.7)(233,7.4)(237,8.2)(241,8.3)(245,8.5)(249,7.8)(253,7.7)(257,8.5)(261,8.9)(265,9.1)(269,8.8)(273,8.9)(277,8.6)(281,8.9)(285,8.5)(289,8.6)(293,8.3)(297,8.0)(300,8.2)(303,7.7)(305,7.4)(307,6.0)(309,5.5)(310,6.7)(312,7.5)(315,8.0)(319,8.3)(323,8.6)(327,8.2)(331,7.7)(335,8.2)(339,8.5)(343,8.0)(346,7.2)(348,7.4)(352,8.0)(356,7.7)(360,8.0)(364,8.0)(368,8.0)(372,8.2)(376,8.0)(380,8.2)(383,8.2)(387,8.3)(391,8.0)(393,7.4)(396,8.5)(399,8.6)(402,8.2)(404,8.3)};
\addlegendentry{\textit{M}\textsubscript{\textit{ψ}\textsubscript{\textit{c}}}\textit{ϕ}\textsubscript{\textit{c}} (star+others)}
\end{axis}
\end{tikzpicture}
\end{document}
